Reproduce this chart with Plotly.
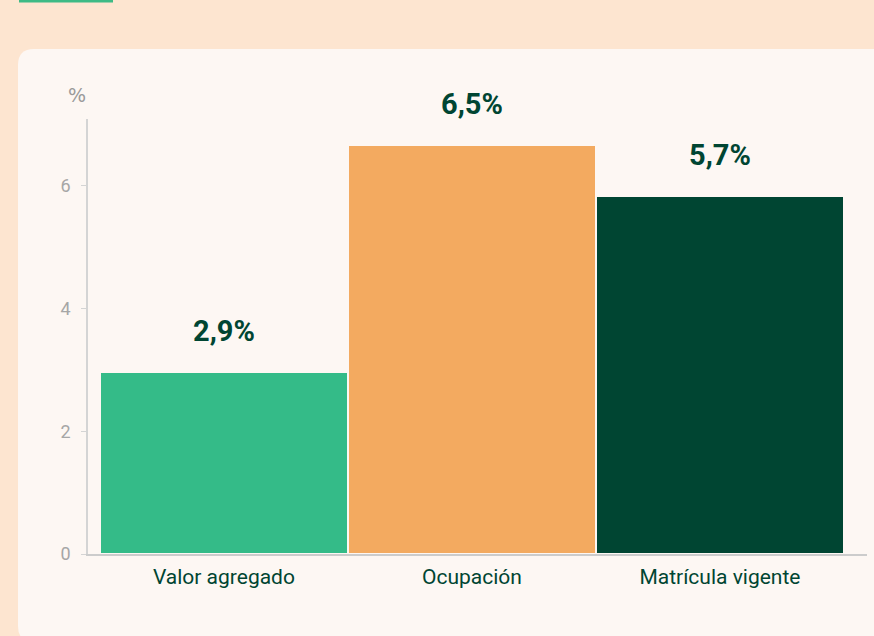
import plotly.graph_objects as go

categories = ["Valor agregado", "Ocupación", "Matrícula vigente"]
values = [2.97, 6.67, 5.84]
value_labels = ["2,9%", "6,5%", "5,7%"]
bar_colors = ["#34bb88", "#f3aa60", "#004532"]
y_ticks = [0, 2, 4, 6]

W, H = 874, 636
L, R, T, B = 88, 7, 119, 82
pw, ph = W - L - R, H - T - B

FONT = "Roboto, Liberation Sans Narrow, sans-serif"

def fx(px):
    return (px - L) / pw

def fy(py):
    return (H - B - py) / ph

fig = go.Figure()
fig.add_trace(go.Bar(
    x=categories, y=values,
    marker=dict(color=bar_colors, line=dict(color="#fdf7f3", width=2)),
    hoverinfo="skip",
))

for c, v, t in zip(categories, values, value_labels):
    fig.add_annotation(x=c, y=v, text=t, showarrow=False, yanchor="middle", yshift=41,
                       font=dict(family=FONT, size=29, color="#004532", weight="bold"))

fig.add_annotation(xref="paper", yref="paper", x=fx(77), y=fy(95), text="%", showarrow=False,
                   xanchor="center", yanchor="middle",
                   font=dict(family="DejaVu Sans, sans-serif", size=19, color="#9a9a9a"))

# card with rounded corners
x0, x1, y0, y1 = fx(18), fx(900), fy(642), fy(49)
rx, ry = 16 / pw, 16 / ph
path = (f"M {x0+rx},{y1} L {x1},{y1} L {x1},{y0} L {x0+rx},{y0} "
        f"Q {x0},{y0} {x0},{y0+ry} L {x0},{y1-ry} Q {x0},{y1} {x0+rx},{y1} Z")
fig.add_shape(type="path", xref="paper", yref="paper", path=path,
              fillcolor="#fdf7f3", line=dict(width=0), layer="below")
fig.add_shape(type="rect", xref="paper", yref="paper", x0=fx(19), x1=fx(113), y0=fy(2.5), y1=fy(-2),
              fillcolor="#3dba85", line=dict(width=0), layer="below")

fig.update_layout(
    width=W, height=H,
    margin=dict(l=L, r=R, t=T, b=B),
    paper_bgcolor="#fde5d0",
    plot_bgcolor="rgba(0,0,0,0)",
    bargap=0,
    showlegend=False,
    xaxis=dict(range=[-0.548, 2.593], showline=True, linecolor="#cccccc", linewidth=1.5,
               ticks="", showgrid=False, zeroline=False, ticklabelstandoff=3,
               tickfont=dict(family=FONT, size=21, color="#004532")),
    yaxis=dict(range=[0, 7.09], tickvals=y_ticks, showline=True, linecolor="#d4d4d4", linewidth=1.5,
               ticks="outside", ticklen=5, tickcolor="#d4d4d4", showgrid=False, zeroline=False,
               ticklabelstandoff=7,
               tickfont=dict(family="Roboto, sans-serif", size=18, color="#a6a6a6")),
)

fig.write_html("out.html", config={"displayModeBar": False},
               post_script="document.body.style.margin='0';document.body.style.padding='0';")
